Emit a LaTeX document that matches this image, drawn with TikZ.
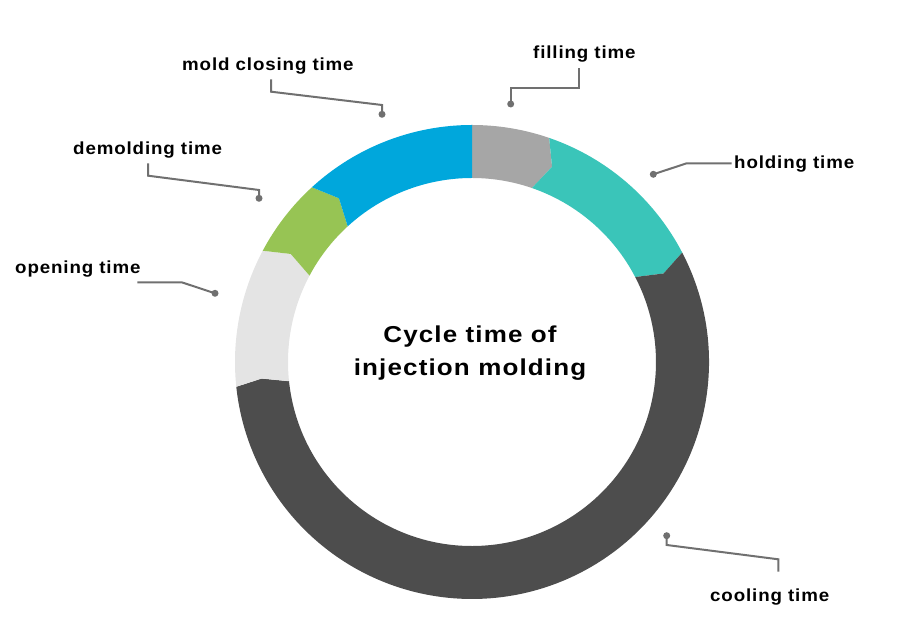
\documentclass[tikz,border=0pt]{standalone}
\usepackage{fontspec}
\setmainfont{Liberation Sans}
\newfontfamily\labfont{Liberation Sans}[LetterSpace=5, FakeStretch=1.07]
\newfontfamily\titfont{Liberation Sans}[LetterSpace=5, FakeStretch=1.13]
\definecolor{cblue}{HTML}{00A7DC}
\definecolor{cteal}{HTML}{3AC5B9}
\definecolor{cgray}{HTML}{A6A6A6}
\definecolor{cdark}{HTML}{4D4D4D}
\definecolor{cgreen}{HTML}{97C454}
\definecolor{clight}{HTML}{E4E4E4}
\definecolor{linegray}{HTML}{707070}
\begin{document}
\begin{tikzpicture}[x=1pt,y=1pt,
  lab/.style={font=\labfont\fontsize{17.5}{20}\selectfont\bfseries, inner sep=0pt, anchor=base west},
  conn/.style={draw=linegray, line width=2pt},
  pin/.style={circle, fill=linegray, minimum size=7pt, inner sep=0pt},
  title/.style={font=\titfont\fontsize{23}{32.5}\selectfont\bfseries, align=center, inner sep=0pt, anchor=base}]
\useasboundingbox (0,0) rectangle (906,642);
\def\Ro{237pt}\def\Ri{184pt}\def\Rm{211pt}
\begin{scope}[shift={(472,280)}]
  % filling (gray)
  \fill[cgray] (90:\Ro) arc[start angle=90,end angle=71,radius=\Ro] -- (67.7:\Rm) -- (71:\Ri)
     arc[start angle=71,end angle=90,radius=\Ri] -- cycle;
  % holding (teal)
  \fill[cteal] (71:\Ro) arc[start angle=71,end angle=27.5,radius=\Ro] -- (24.8:\Rm) -- (27.5:\Ri)
     arc[start angle=27.5,end angle=71,radius=\Ri] -- (67.7:\Rm) -- cycle;
  % cooling (dark)
  \fill[cdark] (27.5:\Ro) arc[start angle=27.5,end angle=-174,radius=\Ro] -- (-175.5:\Rm) -- (-174:\Ri)
     arc[start angle=-174,end angle=27.5,radius=\Ri] -- (24.8:\Rm) -- cycle;
  % opening (light gray)
  \fill[clight] (186:\Ro) arc[start angle=186,end angle=152,radius=\Ro] -- (149.2:\Rm) -- (152:\Ri)
     arc[start angle=152,end angle=186,radius=\Ri] -- (184.5:\Rm) -- cycle;
  % demolding (green)
  \fill[cgreen] (152:\Ro) arc[start angle=152,end angle=132.5,radius=\Ro] -- (129.1:\Rm) -- (132.5:\Ri)
     arc[start angle=132.5,end angle=152,radius=\Ri] -- (149.2:\Rm) -- cycle;
  % mold closing (blue)
  \fill[cblue] (132.5:\Ro) arc[start angle=132.5,end angle=90,radius=\Ro] -- (90:\Ri)
     arc[start angle=90,end angle=132.5,radius=\Ri] -- (129.1:\Rm) -- cycle;
\end{scope}

\node[title] (center) at (470,266.5) {Cycle time of\\injection molding};

% labels
\node[lab] (lmold) at (182,571.3) {mold closing time};
\node[lab] (ldemold) at (73,487) {demolding time};
\node[lab] (lopen) at (15,368.5) {opening time};
\node[lab] (lfill) at (533,583.7) {filling time};
\node[lab] (lhold) at (734,473.7) {holding time};
\node[lab] (lcool) at (710,40.3) {cooling time};

% pins
\node[pin] (pmold) at (382,527.7) {};
\node[pin] (pdemold) at (259,443.7) {};
\node[pin] (popen) at (215,348.7) {};
\node[pin] (pfill) at (510.7,538) {};
\node[pin] (phold) at (653.3,467.7) {};
\node[pin] (pcool) at (666.7,106.3) {};

% connector ends
\coordinate (smold) at (271,562.7);
\coordinate (sdemold) at (148,478.7);
\coordinate (sopen) at (137.3,359.7);
\coordinate (sfill) at (579.3,573.7);
\coordinate (shold) at (731.7,478.7);
\coordinate (scool) at (778.3,70.3);

\draw[conn] (smold) -- (271,550.3) -- (382,537) -- (pmold.center);
\draw[conn] (sdemold) -- (148,466.3) -- (259,452) -- (pdemold.center);
\draw[conn] (sopen) -- (181.7,359.7) -- (popen.center);
\draw[conn] (sfill) -- (579.3,553.7) -- (510.7,553.7) -- (pfill.center);
\draw[conn] (shold) -- (686.7,478.7) -- (phold.center);
\draw[conn] (pcool.center) -- (666.7,97) -- (778.3,82.7) -- (scool);
\end{tikzpicture}
\end{document}
